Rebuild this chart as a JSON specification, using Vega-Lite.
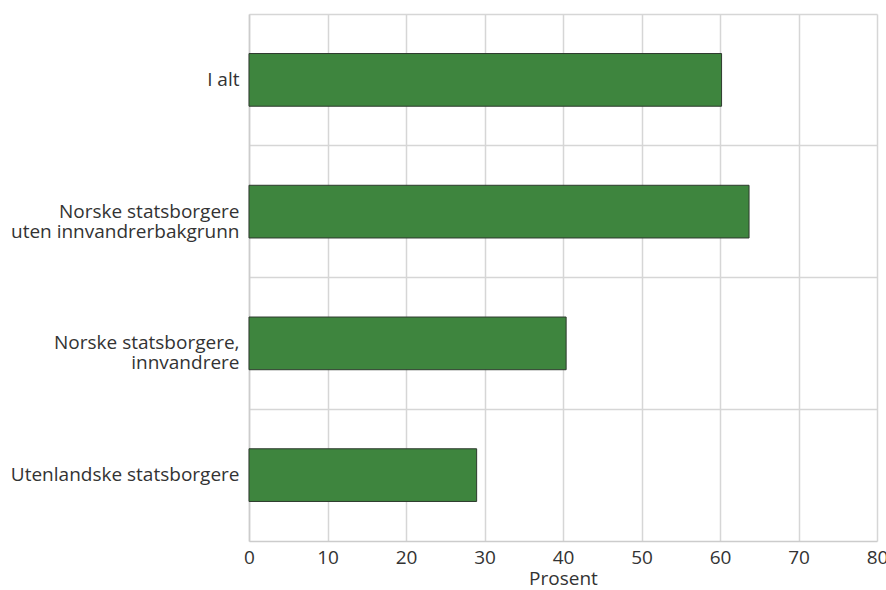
{
  "$schema": "https://vega.github.io/schema/vega-lite/v6.json",
  "width": 628,
  "height": 527,
  "autosize": {"type": "none"},
  "padding": {"top": 14, "left": 249, "right": 9, "bottom": 49},
  "background": "white",
  "config": {
    "font": "Open Sans",
    "view": {"stroke": null}
  },
  "data": {
    "values": [
      {"gruppe": "I alt", "prosent": 60.2},
      {"gruppe": "Norske statsborgere uten innvandrerbakgrunn", "prosent": 63.7},
      {"gruppe": "Norske statsborgere, innvandrere", "prosent": 40.4},
      {"gruppe": "Utenlandske statsborgere", "prosent": 29.0}
    ]
  },
  "mark": {"type": "bar", "height": {"band": 0.4}, "color": "#3e853e", "stroke": "#2e3a2e", "strokeWidth": 1},
  "encoding": {
    "y": {
      "field": "gruppe",
      "type": "nominal",
      "sort": null,
      "scale": {"paddingInner": 0, "paddingOuter": 0},
      "axis": {
        "title": null,
        "ticks": false,
        "domain": true,
        "domainColor": "#cccccc",
        "domainWidth": 1.5,
        "grid": true,
        "gridColor": "#d6d6d6",
        "gridWidth": 1.5,
        "bandPosition": 0,
        "labelFontSize": 19,
        "labelColor": "#333333",
        "labelPadding": 10,
        "labelLimit": 400,
        "labelLineHeight": 20,
        "labelExpr": "datum.value == 'Norske statsborgere uten innvandrerbakgrunn' ? ['Norske statsborgere', 'uten innvandrerbakgrunn'] : datum.value == 'Norske statsborgere, innvandrere' ? ['Norske statsborgere,', 'innvandrere'] : datum.value"
      }
    },
    "x": {
      "field": "prosent",
      "type": "quantitative",
      "scale": {"domain": [0, 80], "nice": false},
      "axis": {
        "title": "Prosent",
        "titleFontSize": 19,
        "titleFontWeight": "normal",
        "titleColor": "#333333",
        "titlePadding": 2,
        "values": [0, 10, 20, 30, 40, 50, 60, 70, 80],
        "ticks": false,
        "domainColor": "#cccccc",
        "domainWidth": 1.5,
        "grid": true,
        "gridColor": "#d6d6d6",
        "gridWidth": 1.5,
        "labelFontSize": 19,
        "labelColor": "#333333",
        "labelPadding": 7,
        "labelFlush": false
      }
    }
  }
}
